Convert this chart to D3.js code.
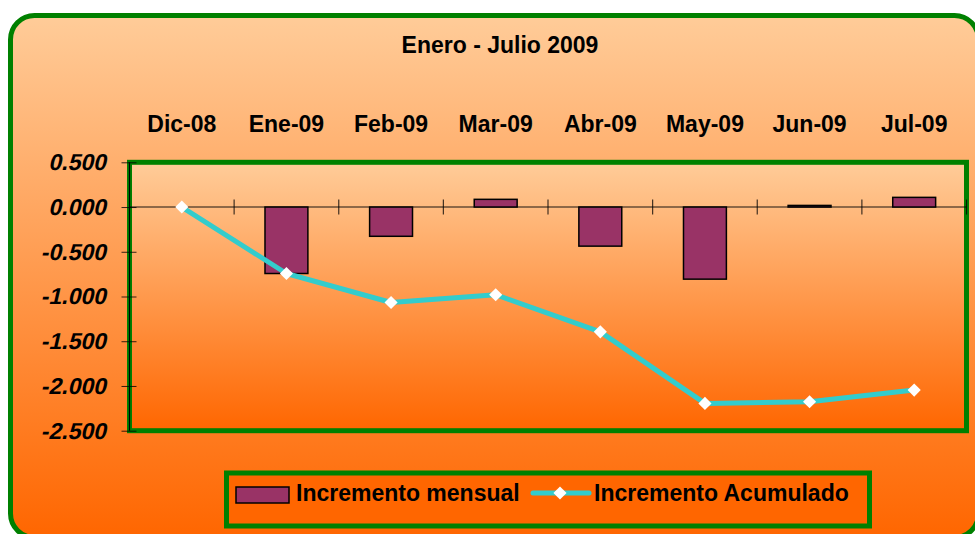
<!DOCTYPE html>
<html>
<head>
<meta charset="utf-8">
<script src="https://cdn.jsdelivr.net/npm/d3@7"></script>
<style>
  body { margin: 0; background: #fff; }
  text { font-family: "Liberation Sans", Arial, sans-serif; font-weight: bold; }
</style>
</head>
<body>
<div id="viz"></div>
<script>
var w = 975, h = 534;

// data
var categories = ["Dic-08", "Ene-09", "Feb-09", "Mar-09", "Abr-09", "May-09", "Jun-09", "Jul-09"];
var mensual    = [0, -0.743, -0.327, 0.086, -0.437, -0.806, 0.018, 0.108];
var acumulado  = [0, -0.743, -1.067, -0.980, -1.395, -2.195, -2.176, -2.046];
var yTicks     = [0.5, 0, -0.5, -1, -1.5, -2, -2.5];
var title      = "Enero - Julio 2009";
var seriesNames = ["Incremento mensual", "Incremento Acumulado"];

var plot = {left: 129.5, right: 966.5, top: 162.3, bottom: 430.7};

var svg = d3.select("#viz").append("svg")
  .attr("width", w)
  .attr("height", h);

var defs = svg.append("defs");

function addGradient(id, from, to) {
  var g = defs.append("linearGradient")
    .attr("id", id)
    .attr("x1", 0).attr("y1", 0).attr("x2", 0).attr("y2", 1);
  g.append("stop").attr("offset", "0%").attr("stop-color", from);
  g.append("stop").attr("offset", "100%").attr("stop-color", to);
}
addGradient("bgGrad", "#ffcc99", "#ff6600");
addGradient("plotGrad", "#ffcc99", "#ff6600");

// outer rounded frame
svg.append("rect")
  .attr("x", 10.5).attr("y", 15.5)
  .attr("width", 968).attr("height", 522)
  .attr("rx", 24).attr("ry", 24)
  .attr("fill", "url(#bgGrad)")
  .attr("stroke", "#008000")
  .attr("stroke-width", 5);

// title
svg.append("text")
  .attr("x", 500).attr("y", 53)
  .attr("text-anchor", "middle")
  .style("font-size", "23px")
  .attr("fill", "#000")
  .text(title);

var x = d3.scaleBand()
  .domain(categories)
  .range([plot.left, plot.right])
  .padding(0);

var y = d3.scaleLinear()
  .domain([-2.5, 0.5])
  .range([plot.bottom, plot.top]);

// plot area
svg.append("rect")
  .attr("x", plot.left).attr("y", plot.top)
  .attr("width", plot.right - plot.left)
  .attr("height", plot.bottom - plot.top)
  .attr("fill", "url(#plotGrad)")
  .attr("stroke", "#008000")
  .attr("stroke-width", 5);

// category labels on top
var xTop = svg.append("g")
  .attr("transform", "translate(0,132)")
  .call(d3.axisTop(x).tickSize(0).tickPadding(0));
xTop.select(".domain").remove();
xTop.selectAll("text")
  .style("font-size", "23px")
  .style("font-family", "'Liberation Sans', Arial, sans-serif")
  .attr("fill", "#000");

// y axis
var yAxis = svg.append("g")
  .attr("transform", "translate(" + plot.left + ",0)")
  .call(d3.axisLeft(y).tickValues(yTicks).tickSize(8).tickPadding(14)
    .tickFormat(function(d) { return d.toFixed(3); }));
yAxis.select(".domain")
  .attr("stroke", "#000").attr("stroke-width", 1.2)
  .attr("d", "M0," + plot.top + "V" + plot.bottom);
yAxis.selectAll(".tick line")
  .attr("x1", -8).attr("x2", 7)
  .attr("stroke", "#000").attr("stroke-opacity", 0.8);
// slanted labels (skew so the slant shows regardless of font faces)
yAxis.selectAll(".tick text")
  .attr("transform", "skewX(-13)")
  .style("font-size", "23px")
  .style("font-family", "'Liberation Sans', Arial, sans-serif")
  .attr("fill", "#000");

// zero line with category boundary ticks
var zero = svg.append("g");
zero.append("line")
  .attr("x1", plot.left).attr("x2", plot.right)
  .attr("y1", y(0)).attr("y2", y(0))
  .attr("stroke", "#000").attr("stroke-opacity", 0.6).attr("stroke-width", 1.5);
zero.selectAll(".sep")
  .data(categories)
  .enter().append("line")
  .attr("class", "sep")
  .attr("x1", function(d) { return x(d) + x.bandwidth(); })
  .attr("x2", function(d) { return x(d) + x.bandwidth(); })
  .attr("y1", y(0) - 7.5).attr("y2", y(0) + 7.5)
  .attr("stroke", "#000").attr("stroke-opacity", 0.75).attr("stroke-width", 1.2);

// bars
var barW = x.bandwidth() * 0.41;
svg.selectAll(".bar")
  .data(mensual.map(function(v, i) { return {c: categories[i], v: v}; }).filter(function(d) { return d.v !== 0; }))
  .enter().append("rect")
  .attr("class", "bar")
  .attr("x", function(d) { return x(d.c) + (x.bandwidth() - barW) / 2; })
  .attr("y", function(d) { return y(Math.max(0, d.v)); })
  .attr("width", barW)
  .attr("height", function(d) { return Math.abs(y(d.v) - y(0)); })
  .attr("fill", "#993366")
  .attr("stroke", "#000")
  .attr("stroke-width", 1.5);

// accumulated line
var pts = acumulado.map(function(v, i) { return {c: categories[i], v: v}; });
var line = d3.line()
  .x(function(d) { return x(d.c) + x.bandwidth() / 2; })
  .y(function(d) { return y(d.v); });

svg.append("path")
  .datum(pts)
  .attr("d", line)
  .attr("fill", "none")
  .attr("stroke", "#33cccc")
  .attr("stroke-width", 5)
  .attr("stroke-linejoin", "round");

var diamond = d3.symbol().type(d3.symbolDiamond2).size(110);
svg.selectAll(".mk")
  .data(pts)
  .enter().append("path")
  .attr("class", "mk")
  .attr("transform", function(d) { return "translate(" + (x(d.c) + x.bandwidth() / 2) + "," + y(d.v) + ")"; })
  .attr("d", diamond)
  .attr("fill", "#fff");

// legend
var lg = svg.append("g");
lg.append("rect")
  .attr("x", 226.5).attr("y", 473)
  .attr("width", 643).attr("height", 53)
  .attr("fill", "#ff6600")
  .attr("stroke", "#008000")
  .attr("stroke-width", 5);
lg.append("rect")
  .attr("x", 236).attr("y", 487)
  .attr("width", 53).attr("height", 16)
  .attr("fill", "#993366")
  .attr("stroke", "#000")
  .attr("stroke-width", 1.5);
lg.append("text")
  .attr("x", 296).attr("y", 501)
  .style("font-size", "23px")
  .text(seriesNames[0]);
lg.append("line")
  .attr("x1", 533).attr("x2", 589)
  .attr("y1", 493).attr("y2", 493)
  .attr("stroke", "#33cccc")
  .attr("stroke-width", 5)
  .attr("stroke-linecap", "round");
lg.append("path")
  .attr("transform", "translate(560,493)")
  .attr("d", diamond)
  .attr("fill", "#fff");
lg.append("text")
  .attr("x", 594).attr("y", 501)
  .style("font-size", "23px")
  .text(seriesNames[1]);
</script>
</body>
</html>
